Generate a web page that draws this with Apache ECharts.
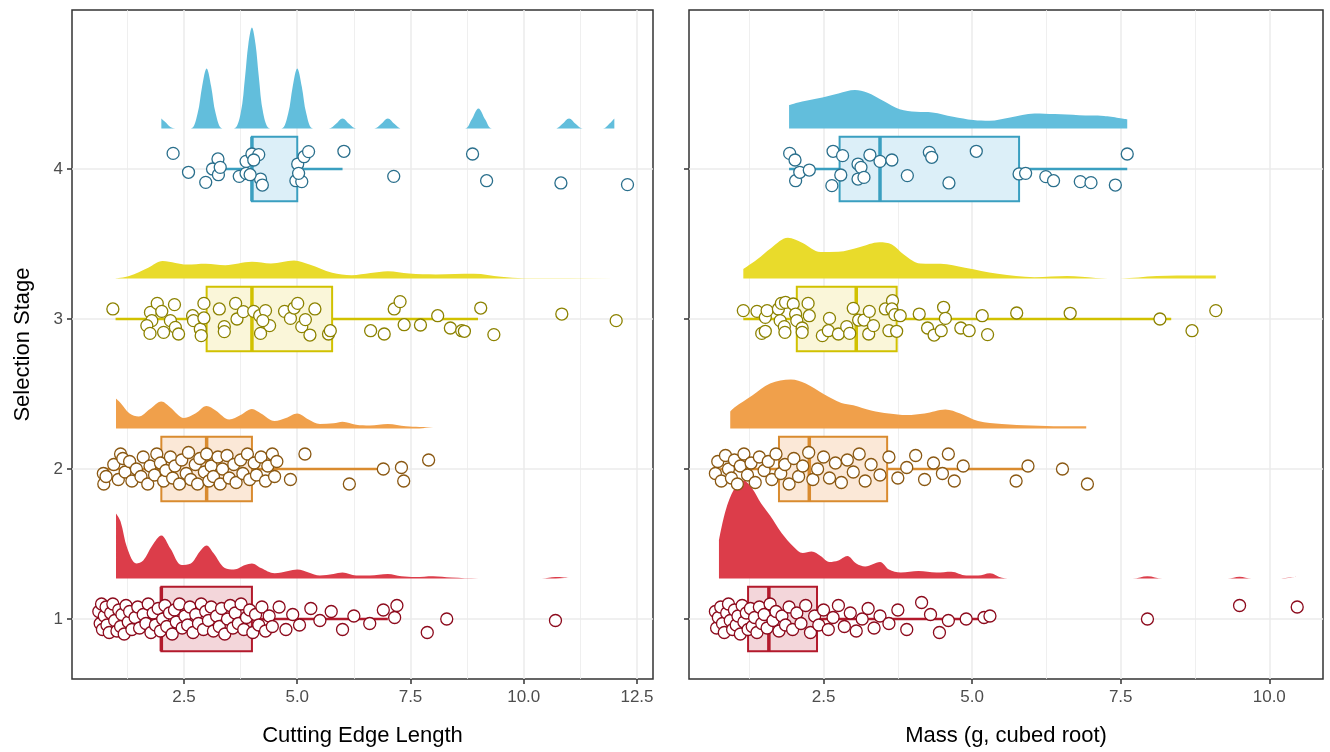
<!DOCTYPE html>
<html>
<head>
<meta charset="utf-8">
<script src="https://cdn.jsdelivr.net/npm/echarts@6/dist/echarts.min.js"></script>
<style>html,body{margin:0;padding:0;background:#fff}#main{width:1330px;height:752px}</style>
</head>
<body>
<div id="main"></div>
<script>
// stages and tick labels
var stages = [1, 2, 3, 4];
var yTicks = [1, 2, 3, 4];
var xTicksLength = [2.5, 5, 7.5, 10, 12.5];
var xTicksMass = [2.5, 5, 7.5, 10];
var xMinorLength = [1.25, 3.75, 6.25, 8.75, 11.25];
var xMinorMass = [1.25, 3.75, 6.25, 8.75];

// box stats per stage 1..4: [stage, low, q1, median, q3, high]
var boxLength = [[1, 0.7, 2, 2, 4, 7], [2, 0.7, 2, 3, 4, 7], [3, 0.99, 3, 4, 5.77, 8.99], [4, 3, 4, 4, 5, 6]];
var boxMass = [[1, 0.71, 1.23, 1.58, 2.39, 5.3], [2, 0.76, 1.75, 2.26, 3.57, 5.98], [3, 1.15, 2.05, 3.05, 3.73, 8.35], [4, 1.92, 2.77, 3.45, 5.79, 7.61]];

// density slabs: [x, height above baseline]
var densLength1 = [[1.0,0.433],[1.1,0.38],[1.25,0.2],[1.45,0.1],[1.6,0.12],[1.8,0.22],[2.0,0.287],[2.2,0.2],[2.45,0.09],[2.65,0.1],[2.85,0.18],[3.0,0.22],[3.15,0.17],[3.4,0.07],[3.6,0.06],[3.85,0.09],[4.0,0.1],[4.2,0.07],[4.5,0.035],[4.8,0.05],[5.0,0.06],[5.25,0.04],[5.5,0.02],[5.8,0.03],[6.0,0.04],[6.3,0.02],[6.6,0.02],[7.0,0.03],[7.3,0.015],[7.6,0.01],[8.0,0.015],[8.4,0.006],[9.0,0],[10.4,0],[10.7,0.01],[11.0,0.005]];
var densLength2 = [[1.0,0.2],[1.1,0.17],[1.3,0.1],[1.5,0.08],[1.75,0.13],[2.0,0.18],[2.2,0.14],[2.5,0.07],[2.75,0.1],[3.0,0.15],[3.2,0.12],[3.5,0.06],[3.75,0.09],[4.0,0.13],[4.2,0.1],[4.5,0.05],[4.75,0.07],[5.0,0.1],[5.25,0.06],[5.5,0.03],[5.8,0.035],[6.0,0.045],[6.3,0.025],[6.6,0.02],[7.0,0.03],[7.4,0.015],[7.7,0.01],[8.0,0.008]];
var densLength3 = [[0.99,0],[1.29,0.016],[1.71,0.071],[2.03,0.116],[2.31,0.104],[2.56,0.093],[2.98,0.098],[3.41,0.089],[4.0,0.111],[4.42,0.1],[4.93,0.12],[5.27,0.093],[5.77,0.038],[6.2,0.022],[6.62,0.036],[7.0,0.049],[7.47,0.033],[8.06,0.027],[8.9,0.031],[9.5,0.011],[10.0,0.002],[11.0,0.002],[12.01,0.002]];
var densLength4 = [[2.0,0.067],[2.1,0.04],[2.2,0.01],[2.35,0],[2.65,0],[2.8,0.1],[2.9,0.28],[3.0,0.4],[3.1,0.28],[3.2,0.1],[3.35,0],[3.6,0],[3.75,0.1],[3.85,0.35],[3.92,0.56],[4.0,0.673],[4.08,0.56],[4.15,0.35],[4.25,0.1],[4.4,0],[4.65,0],[4.8,0.1],[4.9,0.28],[5.0,0.4],[5.1,0.28],[5.2,0.1],[5.35,0],[5.7,0],[5.85,0.03],[6.0,0.067],[6.15,0.03],[6.3,0],[6.7,0],[6.85,0.03],[7.0,0.067],[7.15,0.03],[7.3,0],[8.7,0],[8.85,0.06],[9.0,0.133],[9.15,0.06],[9.3,0],[10.7,0],[10.85,0.03],[11.0,0.067],[11.15,0.03],[11.3,0],[11.75,0],[11.9,0.035],[12.0,0.067]];

var densMass1 = [[0.74,0.253],[0.85,0.45],[1.0,0.6],[1.15,0.653],[1.3,0.6],[1.45,0.5],[1.6,0.42],[1.8,0.3],[2.0,0.21],[2.15,0.17],[2.3,0.18],[2.45,0.15],[2.6,0.11],[2.75,0.12],[2.9,0.15],[3.05,0.1],[3.2,0.08],[3.45,0.11],[3.6,0.06],[3.8,0.04],[4.1,0.05],[4.4,0.04],[4.65,0.045],[4.9,0.02],[5.1,0.02],[5.3,0.035],[5.5,0.005],[5.7,0],[7.7,0],[7.95,0.015],[8.2,0],[9.3,0],[9.5,0.012],[9.7,0],[10.2,0],[10.45,0.012]];
var densMass2 = [[0.93,0.113],[1.0,0.14],[1.3,0.22],[1.6,0.3],[1.95,0.327],[2.2,0.3],[2.5,0.23],[2.8,0.17],[3.0,0.155],[3.3,0.12],[3.6,0.1],[3.9,0.09],[4.2,0.1],[4.55,0.127],[4.8,0.1],[5.1,0.05],[5.5,0.03],[6.0,0.02],[6.5,0.015],[6.92,0.015]];
var densMass3 = [[1.15,0.064],[1.38,0.127],[1.62,0.204],[1.9,0.271],[2.14,0.238],[2.45,0.176],[2.75,0.178],[3.1,0.209],[3.44,0.242],[3.65,0.227],[3.85,0.16],[4.13,0.1],[4.47,0.098],[4.88,0.071],[5.43,0.031],[6.05,0.009],[6.6,0.016],[7.08,0.004],[7.49,0],[8.11,0.016],[8.79,0.02],[9.1,0.02]];
var densMass4 = [[1.92,0.156],[2.14,0.18],[2.48,0.207],[2.75,0.233],[3.03,0.256],[3.23,0.24],[3.51,0.184],[3.78,0.129],[4.06,0.111],[4.33,0.107],[4.68,0.078],[5.02,0.056],[5.29,0.051],[5.64,0.073],[6.05,0.1],[6.39,0.096],[6.8,0.089],[7.22,0.084],[7.61,0.062]];

// jittered observations: [x, y]
var ptsLength1 = [[0.62,1.05],[0.65,0.97],[0.68,1.1],[0.7,0.93],[0.74,1.02],[0.78,1.08],[0.8,0.96],[0.85,0.91],[0.88,1.04],[0.93,1.1],[0.97,0.99],[1.02,0.92],[1.06,1.06],[1.1,0.95],[1.13,1.03],[1.18,0.9],[1.22,1.09],[1.27,0.98],[1.3,1.05],[1.35,0.93],[1.42,1.01],[1.48,1.08],[1.52,0.94],[1.6,1.03],[1.66,0.97],[1.71,1.1],[1.77,0.91],[1.82,1.04],[1.87,0.96],[1.93,1.07],[1.98,0.92],[2.03,1.0],[2.08,1.09],[2.12,0.95],[2.18,1.04],[2.24,0.9],[2.29,1.06],[2.33,0.98],[2.4,1.1],[2.46,0.94],[2.52,1.02],[2.58,0.96],[2.63,1.08],[2.7,0.91],[2.76,1.03],[2.82,0.97],[2.88,1.1],[2.93,0.93],[2.98,1.05],[3.04,0.99],[3.1,1.08],[3.15,0.92],[3.22,1.02],[3.28,0.95],[3.33,1.07],[3.4,0.9],[3.46,1.0],[3.52,1.09],[3.58,0.94],[3.63,1.04],[3.7,0.97],[3.76,1.1],[3.82,0.93],[3.88,1.01],[3.95,1.06],[4.02,0.91],[4.08,1.03],[4.15,0.96],[4.22,1.08],[4.3,0.92],[4.38,1.02],[4.45,0.95],[4.6,1.08],[4.75,0.93],[4.9,1.03],[5.05,0.96],[5.3,1.07],[5.5,0.99],[5.75,1.05],[6.0,0.93],[6.25,1.02],[6.6,0.97],[6.9,1.06],[7.15,1.01],[7.2,1.09],[7.87,0.91],[8.3,1.0],[10.7,0.99]];
var ptsLength2 = [[0.72,1.97],[0.73,1.9],[0.78,1.95],[0.95,2.03],[1.1,2.1],[1.15,2.07],[1.05,1.93],[1.2,1.98],[1.3,2.05],[1.35,1.92],[1.45,2.0],[1.55,1.95],[1.6,2.08],[1.7,1.9],[1.75,2.02],[1.85,1.96],[1.9,2.1],[1.98,2.04],[2.05,1.92],[2.1,1.99],[2.2,2.08],[2.25,1.94],[2.3,2.02],[2.4,1.9],[2.45,2.06],[2.55,1.97],[2.6,2.11],[2.65,1.93],[2.75,2.03],[2.8,1.9],[2.85,2.07],[2.95,1.98],[3.0,2.1],[3.05,1.92],[3.1,2.02],[3.15,1.95],[3.25,2.08],[3.3,1.9],[3.35,2.0],[3.45,2.09],[3.5,1.94],[3.6,2.03],[3.65,1.91],[3.75,2.06],[3.8,1.97],[3.9,2.1],[3.95,1.93],[4.05,2.04],[4.1,1.96],[4.2,2.08],[4.3,1.92],[4.35,2.02],[4.45,2.1],[4.5,1.95],[4.55,2.05],[4.85,1.93],[5.17,2.1],[6.15,1.9],[6.9,2.0],[7.3,2.01],[7.35,1.92],[7.9,2.06]];
var ptsLength3 = [[0.93,3.067],[1.76,3.044],[1.91,3.104],[2.01,3.051],[2.29,3.096],[1.79,2.989],[1.68,2.956],[1.75,2.904],[2.05,2.911],[2.2,2.989],[2.31,2.944],[2.38,2.9],[2.69,3.022],[2.71,2.989],[2.86,2.933],[2.88,2.889],[2.94,3.007],[2.94,3.104],[3.28,3.067],[3.39,2.949],[3.39,2.916],[3.64,3.104],[3.67,3.0],[3.81,3.049],[4.04,3.051],[4.17,3.022],[4.3,3.056],[4.39,2.956],[4.19,2.904],[4.24,2.989],[4.72,3.051],[4.85,3.004],[4.93,3.073],[5.01,3.104],[5.1,2.949],[5.18,2.996],[5.28,2.893],[5.39,3.067],[5.69,2.9],[5.73,2.922],[6.62,2.922],[6.92,2.9],[7.14,3.067],[7.27,3.116],[7.36,2.962],[7.72,2.96],[8.1,3.022],[8.38,2.94],[8.63,2.922],[8.69,2.918],[9.05,3.073],[9.34,2.896],[10.84,3.033],[12.04,2.989]];
var ptsLength4 = [[2.26,4.104],[2.6,3.978],[2.98,3.911],[3.25,4.067],[3.13,4.0],[3.26,3.962],[3.3,4.011],[3.72,3.951],[3.87,3.971],[3.87,4.051],[4.0,4.1],[4.15,4.096],[4.04,4.06],[4.19,3.933],[4.23,3.893],[3.96,3.962],[4.97,3.922],[5.1,3.916],[5.01,4.033],[5.15,4.082],[5.25,4.116],[5.03,3.971],[6.03,4.118],[7.13,3.951],[8.87,4.1],[9.18,3.922],[10.82,3.907],[12.29,3.896]];

var ptsMass1 = [[0.68,1.05],[0.7,0.94],[0.73,1.01],[0.77,1.08],[0.8,0.97],[0.83,0.91],[0.87,1.04],[0.9,1.1],[0.93,0.99],[0.97,0.93],[1.0,1.06],[1.03,0.96],[1.06,1.02],[1.1,0.9],[1.13,1.09],[1.16,0.98],[1.2,1.04],[1.23,0.93],[1.27,1.07],[1.3,0.95],[1.34,1.01],[1.38,0.91],[1.42,1.08],[1.46,0.97],[1.5,1.03],[1.55,0.94],[1.6,1.1],[1.65,0.99],[1.7,1.05],[1.75,0.92],[1.8,1.02],[1.86,0.96],[1.92,1.08],[1.98,0.93],[2.05,1.04],[2.12,0.97],[2.2,1.09],[2.28,0.91],[2.35,1.02],[2.42,0.96],[2.5,1.06],[2.58,0.93],[2.66,1.01],[2.75,1.09],[2.85,0.95],[2.95,1.04],[3.05,0.92],[3.15,1.0],[3.25,1.07],[3.35,0.94],[3.45,1.02],[3.6,0.97],[3.75,1.06],[3.9,0.93],[4.15,1.11],[4.3,1.03],[4.45,0.91],[4.6,0.99],[4.9,1.0],[5.2,1.01],[5.3,1.02],[7.95,1.0],[9.5,1.09],[10.47,1.08]];
var ptsMass2 = [[0.68,1.97],[0.72,2.05],[0.78,1.92],[0.85,2.09],[0.9,2.0],[0.95,1.94],[1.0,2.06],[1.05,1.9],[1.1,2.02],[1.16,2.1],[1.22,1.96],[1.28,2.04],[1.35,1.91],[1.42,2.08],[1.5,1.99],[1.57,2.05],[1.63,1.93],[1.7,2.1],[1.78,1.97],[1.85,2.03],[1.92,1.9],[2.0,2.07],[2.08,1.95],[2.15,2.02],[2.25,2.11],[2.32,1.93],[2.4,2.0],[2.5,2.08],[2.6,1.94],[2.7,2.04],[2.8,1.91],[2.9,2.06],[3.0,1.98],[3.1,2.1],[3.2,1.92],[3.3,2.03],[3.45,1.96],[3.6,2.08],[3.75,1.94],[3.9,2.01],[4.05,2.09],[4.2,1.93],[4.35,2.04],[4.5,1.97],[4.6,2.1],[4.7,1.92],[4.85,2.02],[5.74,1.92],[5.94,2.02],[6.52,2.0],[6.94,1.9]];
var ptsMass3 = [[1.15,3.056],[1.38,3.051],[1.52,3.011],[1.55,3.056],[1.46,2.904],[1.52,2.918],[1.74,3.067],[1.79,3.104],[1.86,3.111],[1.99,3.1],[1.77,2.989],[1.84,2.949],[1.85,2.911],[2.03,3.033],[2.05,2.989],[2.14,2.94],[2.14,2.911],[2.24,3.104],[2.26,3.022],[2.48,2.889],[2.6,3.004],[2.58,2.922],[2.75,2.9],[2.89,2.949],[2.94,2.904],[3.0,3.071],[3.09,2.993],[3.18,2.993],[3.27,3.051],[3.26,2.9],[3.34,2.956],[3.54,3.067],[3.66,3.122],[3.65,3.067],[3.7,3.029],[3.79,3.022],[3.6,2.922],[3.73,2.918],[4.11,3.033],[4.25,2.94],[4.36,2.893],[4.48,2.922],[4.52,3.078],[4.55,3.004],[4.81,2.94],[4.95,2.922],[5.17,3.022],[5.26,2.896],[5.75,3.04],[6.65,3.038],[8.16,3.0],[8.7,2.922],[9.1,3.056]];
var ptsMass4 = [[1.93,4.104],[2.02,4.06],[2.03,3.922],[2.1,3.978],[2.26,3.993],[2.66,4.118],[2.82,4.089],[2.64,3.889],[2.79,3.96],[3.08,4.033],[3.13,4.011],[3.08,3.933],[3.18,3.944],[3.28,4.093],[3.45,4.051],[3.65,4.06],[3.91,3.956],[4.28,4.111],[4.32,4.078],[4.61,3.907],[5.07,4.118],[5.79,3.967],[5.9,3.971],[6.24,3.949],[6.37,3.922],[6.82,3.916],[7.0,3.909],[7.41,3.893],[7.61,4.1]];

// colours per stage 1..4
var slabColors = ['#DC3D4A', '#F0A04B', '#E9DB2B', '#62BEDC'];
var boxLine = ['#B31A2C', '#D98B2F', '#D1C100', '#3A9FC0'];
var boxFill = ['#F3D6DA', '#FBE8D7', '#FAF6D9', '#DCEFF8'];
var ptLine = ['#8C0A1C', '#8A5812', '#8C8200', '#2A6F8C'];

var SLAB_OFFSET = 0.27;
var BOX_HALF = 0.215;

function boxItem(params, api) {
  var st = api.value(0);
  var lo = api.coord([api.value(1), st]);
  var q1 = api.coord([api.value(2), st]);
  var md = api.coord([api.value(3), st]);
  var q3 = api.coord([api.value(4), st]);
  var hi = api.coord([api.value(5), st]);
  var top = api.coord([api.value(2), st + BOX_HALF])[1];
  var bot = api.coord([api.value(2), st - BOX_HALF])[1];
  var i = st - 1;
  return {
    type: 'group',
    children: [
      {type: 'line', shape: {x1: lo[0], y1: lo[1], x2: q1[0], y2: q1[1]}, style: {stroke: boxLine[i], lineWidth: 2.5}},
      {type: 'line', shape: {x1: q3[0], y1: q3[1], x2: hi[0], y2: hi[1]}, style: {stroke: boxLine[i], lineWidth: 2.5}},
      {type: 'rect', shape: {x: q1[0], y: top, width: q3[0] - q1[0], height: bot - top}, style: {fill: boxFill[i], stroke: boxLine[i], lineWidth: 2}},
      {type: 'line', shape: {x1: md[0], y1: top, x2: md[0], y2: bot}, style: {stroke: boxLine[i], lineWidth: 3.5}}
    ]
  };
}

function gridSeries(idx, majors, minors) {
  var lines = [];
  minors.forEach(function (v) { lines.push({xAxis: v, lineStyle: {width: 0.8}}); });
  majors.forEach(function (v) { lines.push({xAxis: v, lineStyle: {width: 1.5}}); });
  yTicks.forEach(function (v) { lines.push({yAxis: v, lineStyle: {width: 1.5}}); });
  return {
    type: 'line', xAxisIndex: idx, yAxisIndex: idx, data: [], silent: true, z: 0,
    markLine: {silent: true, z: 0, symbol: 'none', label: {show: false}, animation: false,
      lineStyle: {color: '#EBEBEB', type: 'solid'}, data: lines}
  };
}

function slabSeries(idx, dens, stage) {
  var base = stage + SLAB_OFFSET;
  return {
    type: 'line', xAxisIndex: idx, yAxisIndex: idx, z: 2, silent: true,
    smooth: 0.35, showSymbol: false, symbol: 'none',
    lineStyle: {width: 0, opacity: 0},
    areaStyle: {color: slabColors[stage - 1], opacity: 1, origin: base},
    data: dens.map(function (d) { return [d[0], base + d[1]]; })
  };
}

function pointSeries(idx, pts, stage) {
  return {
    type: 'scatter', xAxisIndex: idx, yAxisIndex: idx, z: 4, silent: true,
    symbol: 'circle', symbolSize: 12,
    itemStyle: {color: '#fff', borderColor: ptLine[stage - 1], borderWidth: 1.3, opacity: 1},
    data: pts
  };
}

function xAxisDef(idx, min, max, ticks, name) {
  return {
    type: 'value', gridIndex: idx, min: min, max: max,
    name: name, nameLocation: 'middle', nameGap: 46,
    nameTextStyle: {fontSize: 22, color: '#000', fontFamily: 'Liberation Sans'},
    axisLine: {show: false},
    axisTick: {show: true, length: 5, customValues: ticks, lineStyle: {color: '#333', width: 1.5}},
    axisLabel: {customValues: ticks, fontSize: 17, color: '#4D4D4D', margin: 10, fontFamily: 'Liberation Sans',
      formatter: function (v) { return v.toFixed(1); }},
    splitLine: {show: false}
  };
}

function yAxisDef(idx, showLabels) {
  return {
    type: 'value', gridIndex: idx, min: 0.6, max: 5.06,
    name: showLabels ? 'Selection Stage' : '', nameLocation: 'middle', nameGap: 38,
    nameTextStyle: {fontSize: 22, color: '#000', fontFamily: 'Liberation Sans'},
    axisLine: {show: false},
    axisTick: {show: true, length: 5, customValues: yTicks, lineStyle: {color: '#333', width: 1.5}},
    axisLabel: {show: showLabels, customValues: yTicks, fontSize: 17, color: '#4D4D4D', margin: 9, fontFamily: 'Liberation Sans'},
    splitLine: {show: false}
  };
}

var series = [gridSeries(0, xTicksLength, xMinorLength), gridSeries(1, xTicksMass, xMinorMass)];
var densL = [densLength1, densLength2, densLength3, densLength4];
var densM = [densMass1, densMass2, densMass3, densMass4];
var ptsL = [ptsLength1, ptsLength2, ptsLength3, ptsLength4];
var ptsM = [ptsMass1, ptsMass2, ptsMass3, ptsMass4];
stages.forEach(function (s, i) {
  series.push(slabSeries(0, densL[i], s));
  series.push(slabSeries(1, densM[i], s));
});
series.push({type: 'custom', xAxisIndex: 0, yAxisIndex: 0, z: 3, silent: true, renderItem: boxItem, data: boxLength});
series.push({type: 'custom', xAxisIndex: 1, yAxisIndex: 1, z: 3, silent: true, renderItem: boxItem, data: boxMass});
stages.forEach(function (s, i) {
  series.push(pointSeries(0, ptsL[i], s));
  series.push(pointSeries(1, ptsM[i], s));
});

var myChart = echarts.init(document.getElementById('main'));
var option = {
  backgroundColor: '#fff',
  animation: false,
  grid: [
    {left: 72, right: 677, top: 10, bottom: 73, show: true, borderColor: '#333', borderWidth: 1.5, backgroundColor: 'transparent'},
    {left: 689, right: 7, top: 10, bottom: 73, show: true, borderColor: '#333', borderWidth: 1.5, backgroundColor: 'transparent'}
  ],
  xAxis: [
    xAxisDef(0, 0.028, 12.853, xTicksLength, 'Cutting Edge Length'),
    xAxisDef(1, 0.236, 10.904, xTicksMass, 'Mass (g, cubed root)')
  ],
  yAxis: [yAxisDef(0, true), yAxisDef(1, false)],
  series: series
};
myChart.setOption(option);
</script>
</body>
</html>
